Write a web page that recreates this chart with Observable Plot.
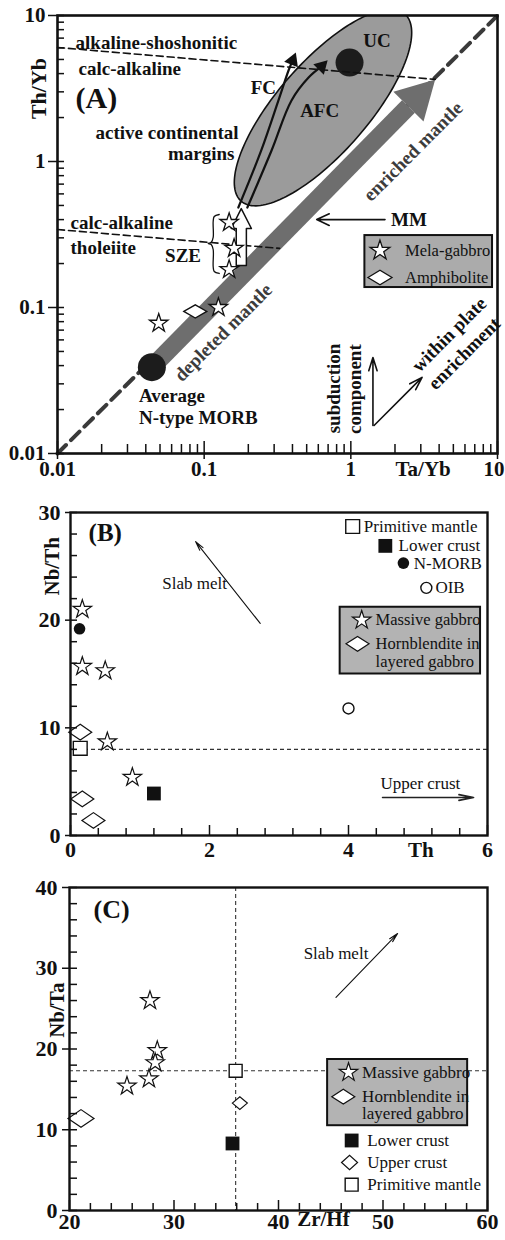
<!DOCTYPE html>
<html><head><meta charset="utf-8">
<script src="https://cdn.jsdelivr.net/npm/d3@7"></script>
<script src="https://cdn.jsdelivr.net/npm/@observablehq/plot@0.6"></script>
<style>
body{margin:0;background:#fff;}
#wrap{position:relative;width:505px;height:1240px;overflow:hidden;background:#fff}
#wrap svg{position:absolute;left:0;overflow:visible}
</style></head><body><div id="wrap"></div>
<script>
const SERIF = "'Liberation Serif','Times New Roman',serif";

// ================= Panel A : Th/Yb vs Ta/Yb =================
const melaGabbroA = [
  {ta: 0.148, th: 0.382}, {ta: 0.160, th: 0.254}, {ta: 0.148, th: 0.182},
  {ta: 0.125, th: 0.100}, {ta: 0.049, th: 0.078}
];
const amphiboliteA = [{ta: 0.087, th: 0.094}];
const morbA = [{ta: 0.044, th: 0.039}];
const upperCrustA = [{ta: 0.98, th: 4.76}];
const diagonalA = [{ta: 0.01, th: 0.01}, {ta: 10, th: 10}];
const mantleBandA = [{ta: 0.044, th: 0.039}, {ta: 2.47, th: 2.38}];
const mantleHeadA = [{ta: 1.95, th: 3.0}, {ta: 3.76, th: 3.65}, {ta: 3.13, th: 1.88}];
const alkCalcLineA = [{ta: 0.01, th: 6.04}, {ta: 3.76, th: 3.65}];
const calcTholLineA = [{ta: 0.01, th: 0.342}, {ta: 0.327, th: 0.254}];
const fcPathA = [{ta: 0.171, th: 0.484}, {ta: 0.245, th: 1.19}, {ta: 0.321, th: 2.62}, {ta: 0.376, th: 4.20}, {ta: 0.401, th: 4.92}];
const afcPathA = [{ta: 0.197, th: 0.484}, {ta: 0.288, th: 1.19}, {ta: 0.394, th: 2.62}, {ta: 0.515, th: 3.76}, {ta: 0.632, th: 4.48}];
const fcHeadA = [{ta: 0.401, th: 4.92}];
const afcHeadA = [{ta: 0.632, th: 4.48}];
const szeArrowA = [
  {ta: 0.1655, th: 0.194}, {ta: 0.1655, th: 0.3475}, {ta: 0.153, th: 0.3475},
  {ta: 0.179, th: 0.476}, {ta: 0.210, th: 0.3475}, {ta: 0.194, th: 0.3475}, {ta: 0.194, th: 0.194}
];
const braceA = [
  {ta: 0.1267, th: 0.4335}, {ta: 0.1171, th: 0.420}, {ta: 0.1152, th: 0.388}, {ta: 0.1152, th: 0.3017},
  {ta: 0.1117, th: 0.2788}, {ta: 0.1065, th: 0.2745}, {ta: 0.1117, th: 0.270}, {ta: 0.1152, th: 0.2496},
  {ta: 0.1152, th: 0.191}, {ta: 0.1171, th: 0.1764}, {ta: 0.1267, th: 0.171}
];
const acmEllipseA = {ta: 0.646, th: 2.34, semiMajor: 0.85, semiMinor: 0.31, angle: 49};
const vectorsA = [
  {name: "MM", x1: 1.71, y1: 0.40, x2: 0.585, y2: 0.40},
  {name: "subduction", x1: 1.415, y1: 0.01556, x2: 1.415, y2: 0.0455},
  {name: "within plate", x1: 1.44, y1: 0.01556, x2: 3.06, y2: 0.0332}
];
const labelsStartA = [
  {ta: 0.01328, th: 6.53, t: "alkaline-shoshonitic"},
  {ta: 0.01393, th: 4.34, t: "calc-alkaline"},
  {ta: 0.01227, th: 0.382, t: "calc-alkaline"},
  {ta: 0.01227, th: 0.2576, t: "tholeiite"},
  {ta: 0.0359, th: 0.0249, t: "Average"},
  {ta: 0.0359, th: 0.01766, t: "N-type MORB"}
];
const panelTagA = [{ta: 0.01328, th: 2.70, t: "(A)"}];
const labelsMidA = [
  {ta: 0.2535, th: 3.21, t: "FC"},
  {ta: 0.613, th: 2.23, t: "AFC"},
  {ta: 0.0558, th: 1.58, t: "active continental"},
  {ta: 0.0954, th: 1.134, t: "margins"},
  {ta: 1.507, th: 6.74, t: "UC"},
  {ta: 0.0718, th: 0.227, t: "SZE"},
  {ta: 2.49, th: 0.401, t: "MM"}
];
const mantleLabelsA = [
  {ta: 2.66, th: 1.17, t: "enriched mantle"},
  {ta: 0.135, th: 0.0675, t: "depleted mantle"}
];
const vectorLabels45A = [
  {ta: 4.69, th: 0.0653, t: "within plate"},
  {ta: 5.94, th: 0.0484, t: "enrichment"}
];
const vectorLabels90A = [
  {ta: 0.765, th: 0.0279, t: "subduction"},
  {ta: 1.065, th: 0.0276, t: "component"}
];
const legendBoxA = [{x1: 1.247, x2: 9.25, y1: 0.137, y2: 0.311}];
const legendStarA = [{ta: 1.58, th: 0.2457}];
const legendDiamondA = [{ta: 1.58, th: 0.1605}];
const legendTextA = [{ta: 2.34, th: 0.2457, t: "Mela-gabbro"}, {ta: 2.34, th: 0.1605, t: "Amphibolite"}];
const decadeTicksA = [0.01, 0.1, 1, 10];
const axisLabelsA = {x: "Ta/Yb", y: "Th/Yb", xPos: 3.11, yPos: 3.16};

// ================= Panel B : Nb/Th vs Th =================
const massiveGabbroB = [
  {th: 0.17, nbth: 21.0}, {th: 0.17, nbth: 15.7}, {th: 0.50, nbth: 15.3},
  {th: 0.53, nbth: 8.7}, {th: 0.89, nbth: 5.4}
];
const hornblenditeB = [{th: 0.14, nbth: 9.6}, {th: 0.17, nbth: 3.4}, {th: 0.33, nbth: 1.4}];
const primitiveMantleB = [{th: 0.14, nbth: 8.1}];
const lowerCrustB = [{th: 1.2, nbth: 3.9}];
const nMorbB = [{th: 0.13, nbth: 19.2}];
const oibB = [{th: 4.0, nbth: 11.8}];
const pmLevelB = [8.0];
const slabArrowB = [{x1: 2.73, y1: 19.7, x2: 1.80, y2: 27.3}];
const upperCrustArrowB = [{x1: 4.49, y1: 3.53, x2: 5.80, y2: 3.53}];
const xTicksB = [0, 2, 4, 6];
const yTicksB = [0, 10, 20, 30];
const refLegendB = [
  {th: 4.22, nbth: 28.7, t: "Primitive mantle"},
  {th: 4.72, nbth: 26.9, t: "Lower crust"},
  {th: 4.94, nbth: 25.3, t: "N-MORB"},
  {th: 5.25, nbth: 23.0, t: "OIB"}
];
const refLegendSymB = {pm: [{th: 4.06, nbth: 28.7}], lc: [{th: 4.53, nbth: 26.9}], nm: [{th: 4.79, nbth: 25.3}], oib: [{th: 5.12, nbth: 23.0}]};
const legendBoxB = [{x1: 3.88, x2: 5.90, y1: 15.0, y2: 21.2}];
const legendSymB = {star: [{th: 4.19, nbth: 20.0}], diamond: [{th: 4.13, nbth: 17.8}]};
const legendTextB = [
  {th: 4.39, nbth: 20.0, t: "Massive gabbro"},
  {th: 4.39, nbth: 17.8, t: "Hornblendite in"},
  {th: 4.39, nbth: 16.1, t: "layered gabbro"}
];
const notesB = [{th: 1.32, nbth: 23.4, t: "Slab melt"}, {th: 4.46, nbth: 4.83, t: "Upper crust"}];

// ================= Panel C : Nb/Ta vs Zr/Hf =================
const massiveGabbroC = [
  {zrhf: 27.7, nbta: 26.0}, {zrhf: 28.4, nbta: 19.8}, {zrhf: 28.2, nbta: 18.3},
  {zrhf: 27.6, nbta: 16.3}, {zrhf: 25.5, nbta: 15.4}
];
const hornblenditeC = [{zrhf: 21.1, nbta: 11.4}];
const upperCrustC = [{zrhf: 36.3, nbta: 13.3}];
const lowerCrustC = [{zrhf: 35.6, nbta: 8.3}];
const primitiveMantleC = [{zrhf: 35.9, nbta: 17.3}];
const slabArrowC = [{x1: 45.5, y1: 26.4, x2: 51.4, y2: 34.3}];
const xTicksC = [20, 30, 40, 50, 60];
const yTicksC = [0, 10, 20, 30, 40];
const legendBoxC = [{x1: 44.7, x2: 58.1, y1: 10.5, y2: 18.7}];
const legendTextC = [
  {zrhf: 48.0, nbta: 17.1, t: "Massive gabbro"},
  {zrhf: 48.0, nbta: 14.1, t: "Hornblendite in"},
  {zrhf: 48.0, nbta: 12.0, t: "layered gabbro"},
  {zrhf: 48.5, nbta: 8.67, t: "Lower crust"},
  {zrhf: 48.5, nbta: 5.94, t: "Upper crust"},
  {zrhf: 48.5, nbta: 3.2, t: "Primitive mantle"}
];
const legendSymC = {
  star: [{zrhf: 46.7, nbta: 17.1}], diamond: [{zrhf: 46.2, nbta: 14.1}],
  lc: [{zrhf: 47.0, nbta: 8.67}], uc: [{zrhf: 46.8, nbta: 5.94}], pm: [{zrhf: 47.0, nbta: 3.2}]
};

// ================= helpers =================
const INK = "#111";
const diamond = (ratio) => ({
  draw(ctx, size) {
    const w = Math.sqrt(size / Math.PI), h = w * ratio;
    ctx.moveTo(-w, 0); ctx.lineTo(0, -h); ctx.lineTo(w, 0); ctx.lineTo(0, h); ctx.closePath();
  }
});
function ellipsePoints(e, n = 160) {
  const a = e.angle * Math.PI / 180, cx = Math.log10(e.ta), cy = Math.log10(e.th);
  return d3.range(n).map(i => {
    const t = 2 * Math.PI * i / n;
    const lx = cx + e.semiMajor * Math.cos(t) * Math.cos(a) - e.semiMinor * Math.sin(t) * Math.sin(a);
    const ly = cy + e.semiMajor * Math.cos(t) * Math.sin(a) + e.semiMinor * Math.sin(t) * Math.cos(a);
    return {ta: 10 ** lx, th: 10 ** ly};
  });
}
function tickRules(o) {
  const s = {stroke: INK, strokeWidth: 1.5};
  return [
    Plot.ruleX(o.xMinor, {...s, insetTop: o.innerH - o.xIn}),
    Plot.ruleX(o.xMajor, {...s, insetTop: o.innerH - o.xInMajor, insetBottom: -o.xOut}),
    Plot.ruleY(o.yMinor, {...s, insetRight: o.innerW - o.yIn}),
    Plot.ruleY(o.yMajor, {...s, insetRight: o.innerW - o.yInMajor, insetLeft: -o.yOut})
  ];
}
const txt = (extra) => ({fontFamily: SERIF, fill: INK, ...extra});
const wrap = document.getElementById("wrap");
function place(svg, top) { svg.style.top = top + "px"; wrap.appendChild(svg); }

// ================= Panel A =================
{
  const W = 505, H = 490, mL = 57, mR = 8, mT = 15, mB = 37;
  const innerW = W - mL - mR, innerH = H - mT - mB;
  const minor = [];
  for (const d of [0.01, 0.1, 1]) for (let k = 2; k <= 9; k++) minor.push(d * k);
  const svg = Plot.plot({
    width: W, height: H, marginLeft: mL, marginRight: mR, marginTop: mT, marginBottom: mB,
    x: {type: "log", domain: [0.01, 10], axis: null},
    y: {type: "log", domain: [0.01, 10], axis: null},
    style: {fontFamily: SERIF, background: "transparent"},
    marks: [
      Plot.line(ellipsePoints(acmEllipseA), {x: "ta", y: "th", curve: "linear-closed", fill: "#9b9b9b", stroke: INK, strokeWidth: 1.6, clip: true}),
      Plot.line(diagonalA, {x: "ta", y: "th", stroke: "#3a3a3a", strokeWidth: 4, strokeDasharray: "12,7"}),
      Plot.line(mantleBandA, {x: "ta", y: "th", stroke: "#6e6e6e", strokeWidth: 18, strokeLinecap: "butt"}),
      Plot.line(mantleHeadA, {x: "ta", y: "th", curve: "linear-closed", fill: "#6e6e6e", stroke: "none"}),
      Plot.dot(upperCrustA, {x: "ta", y: "th", r: 14, fill: "#1c1c1c"}),
      Plot.line(alkCalcLineA, {x: "ta", y: "th", stroke: INK, strokeWidth: 1.6, strokeDasharray: "7,4"}),
      Plot.line(calcTholLineA, {x: "ta", y: "th", stroke: INK, strokeWidth: 1.6, strokeDasharray: "7,4"}),
      Plot.line(fcPathA, {x: "ta", y: "th", curve: "catmull-rom", stroke: INK, strokeWidth: 2.2}),
      Plot.line(afcPathA, {x: "ta", y: "th", curve: "catmull-rom", stroke: INK, strokeWidth: 2.2}),
      Plot.dot(fcHeadA, {x: "ta", y: "th", symbol: "triangle", r: 5.5, rotate: 22, fill: INK}),
      Plot.dot(afcHeadA, {x: "ta", y: "th", symbol: "triangle", r: 5.5, rotate: 45, fill: INK}),
      Plot.line(szeArrowA, {x: "ta", y: "th", curve: "linear-closed", fill: "white", stroke: INK, strokeWidth: 1.5}),
      Plot.line(braceA, {x: "ta", y: "th", curve: "catmull-rom", stroke: INK, strokeWidth: 1.3}),
      Plot.dot(melaGabbroA, {x: "ta", y: "th", symbol: "star", r: 5.8, fill: "white", stroke: INK, strokeWidth: 1.3}),
      Plot.dot(amphiboliteA, {x: "ta", y: "th", symbol: diamond(0.57), r: 11.5, fill: "white", stroke: INK, strokeWidth: 1.3}),
      Plot.dot(morbA, {x: "ta", y: "th", r: 14, fill: "#1c1c1c"}),
      Plot.arrow(vectorsA.slice(0, 1), {x1: "x1", y1: "y1", x2: "x2", y2: "y2", stroke: INK, strokeWidth: 1.6, headLength: 13, headAngle: 50}),
      Plot.arrow(vectorsA.slice(1), {x1: "x1", y1: "y1", x2: "x2", y2: "y2", stroke: INK, strokeWidth: 1.6, headLength: 13, headAngle: 35}),
      Plot.text(labelsStartA, {x: "ta", y: "th", text: "t", textAnchor: "start", ...txt({fontSize: 19, fontWeight: "bold"})}),
      Plot.text(panelTagA, {x: "ta", y: "th", text: "t", textAnchor: "start", ...txt({fontSize: 30, fontWeight: "bold"})}),
      Plot.text(labelsMidA, {x: "ta", y: "th", text: "t", ...txt({fontSize: 19, fontWeight: "bold"})}),
      Plot.text(mantleLabelsA, {x: "ta", y: "th", text: "t", rotate: -45, ...txt({fontSize: 19, fontWeight: "bold", fill: "#3c3c3c"})}),
      Plot.text(vectorLabels45A, {x: "ta", y: "th", text: "t", rotate: -45, ...txt({fontSize: 19, fontWeight: "bold"})}),
      Plot.text(vectorLabels90A, {x: "ta", y: "th", text: "t", rotate: -90, ...txt({fontSize: 19, fontWeight: "bold"})}),
      Plot.rect(legendBoxA, {x1: "x1", x2: "x2", y1: "y1", y2: "y2", fill: "#ababab", stroke: INK, strokeWidth: 2}),
      Plot.dot(legendStarA, {x: "ta", y: "th", symbol: "star", r: 6.2, fill: "white", stroke: INK, strokeWidth: 1.3}),
      Plot.dot(legendDiamondA, {x: "ta", y: "th", symbol: diamond(0.6), r: 12, fill: "white", stroke: INK, strokeWidth: 1.3}),
      Plot.text(legendTextA, {x: "ta", y: "th", text: "t", textAnchor: "start", ...txt({fontSize: 16.5})}),
      ...tickRules({innerW, innerH, xMinor: minor, xMajor: decadeTicksA, yMinor: minor, yMajor: decadeTicksA,
        xIn: 9, xInMajor: 12, xOut: 6, yIn: 7, yInMajor: 7, yOut: 9}),
      Plot.frame({stroke: INK, strokeWidth: 2.6}),
      Plot.text(decadeTicksA.slice(0, 3), {x: d => d, text: d => String(d), frameAnchor: "bottom", dy: 22, textAnchor: "middle", ...txt({fontSize: 21, fontWeight: "bold"})}),
      Plot.text(decadeTicksA.slice(3), {x: d => d, text: d => String(d), frameAnchor: "bottom", dy: 22, dx: 7, textAnchor: "end", ...txt({fontSize: 21, fontWeight: "bold"})}),
      Plot.text(decadeTicksA, {y: d => d, text: d => String(d), frameAnchor: "left", dx: -12, textAnchor: "end", ...txt({fontSize: 21, fontWeight: "bold"})}),
      Plot.text([axisLabelsA.x], {x: axisLabelsA.xPos, text: d => d, frameAnchor: "bottom", dy: 22, textAnchor: "middle", ...txt({fontSize: 21, fontWeight: "bold"})}),
      Plot.text([axisLabelsA.y], {y: axisLabelsA.yPos, text: d => d, frameAnchor: "left", dx: -19, rotate: -90, textAnchor: "middle", ...txt({fontSize: 22, fontWeight: "bold"})})
    ]
  });
  place(svg, 0);
}

// ================= Panel B =================
{
  const W = 505, H = 380, mL = 70, mR = 18, mT = 22, mB = 35;
  const innerW = W - mL - mR, innerH = H - mT - mB;
  const xMinor = d3.range(1, 15).map(i => i * 0.4).filter(v => Math.abs(v / 2 - Math.round(v / 2)) > 0.01);
  const yMinor = d3.range(1, 15).map(i => i * 2).filter(v => v % 10 !== 0);
  const svg = Plot.plot({
    width: W, height: H, marginLeft: mL, marginRight: mR, marginTop: mT, marginBottom: mB,
    x: {domain: [0, 6], axis: null},
    y: {domain: [0, 30], axis: null},
    style: {fontFamily: SERIF, background: "transparent"},
    marks: [
      Plot.ruleY(pmLevelB, {stroke: "#333", strokeWidth: 1.1, strokeDasharray: "4,3"}),
      Plot.dot(massiveGabbroB, {x: "th", y: "nbth", symbol: "star", r: 5.8, fill: "white", stroke: INK, strokeWidth: 1.2}),
      Plot.dot(hornblenditeB, {x: "th", y: "nbth", symbol: diamond(0.68), r: 11.5, fill: "white", stroke: INK, strokeWidth: 1.2}),
      Plot.dot(primitiveMantleB, {x: "th", y: "nbth", symbol: "square", r: 7.8, fill: "white", stroke: INK, strokeWidth: 1.4}),
      Plot.dot(lowerCrustB, {x: "th", y: "nbth", symbol: "square", r: 7.8, fill: INK}),
      Plot.dot(nMorbB, {x: "th", y: "nbth", r: 5.8, fill: INK}),
      Plot.dot(oibB, {x: "th", y: "nbth", r: 5.5, fill: "white", stroke: INK, strokeWidth: 1.4}),
      Plot.arrow(slabArrowB, {x1: "x1", y1: "y1", x2: "x2", y2: "y2", stroke: INK, strokeWidth: 1.1, headLength: 13, headAngle: 25}),
      Plot.arrow(upperCrustArrowB, {x1: "x1", y1: "y1", x2: "x2", y2: "y2", stroke: "#222", strokeWidth: 1.6, headLength: 14, headAngle: 22}),
      Plot.text(notesB, {x: "th", y: "nbth", text: "t", textAnchor: "start", ...txt({fontSize: 17})}),
      Plot.text([{th: 0.26, nbth: 28.1, t: "(B)"}], {x: "th", y: "nbth", text: "t", textAnchor: "start", ...txt({fontSize: 25, fontWeight: "bold"})}),
      Plot.dot(refLegendSymB.pm, {x: "th", y: "nbth", symbol: "square", r: 7.8, fill: "white", stroke: INK, strokeWidth: 1.4}),
      Plot.dot(refLegendSymB.lc, {x: "th", y: "nbth", symbol: "square", r: 7.8, fill: INK}),
      Plot.dot(refLegendSymB.nm, {x: "th", y: "nbth", r: 5.8, fill: INK}),
      Plot.dot(refLegendSymB.oib, {x: "th", y: "nbth", r: 5.5, fill: "white", stroke: INK, strokeWidth: 1.4}),
      Plot.text(refLegendB, {x: "th", y: "nbth", text: "t", textAnchor: "start", ...txt({fontSize: 17})}),
      Plot.rect(legendBoxB, {x1: "x1", x2: "x2", y1: "y1", y2: "y2", fill: "#b3b3b3", stroke: INK, strokeWidth: 2}),
      Plot.dot(legendSymB.star, {x: "th", y: "nbth", symbol: "star", r: 5.8, fill: "white", stroke: INK, strokeWidth: 1.2}),
      Plot.dot(legendSymB.diamond, {x: "th", y: "nbth", symbol: diamond(0.65), r: 11.5, fill: "white", stroke: INK, strokeWidth: 1.2}),
      Plot.text(legendTextB, {x: "th", y: "nbth", text: "t", textAnchor: "start", ...txt({fontSize: 16.5})}),
      ...tickRules({innerW, innerH, xMinor, xMajor: xTicksB, yMinor, yMajor: yTicksB,
        xIn: 7, xInMajor: 10, xOut: 0, yIn: 7, yInMajor: 7, yOut: 5}),
      Plot.frame({stroke: INK, strokeWidth: 2.4}),
      Plot.text(xTicksB, {x: d => d, text: d => String(d), frameAnchor: "bottom", dy: 21, textAnchor: "middle", ...txt({fontSize: 22, fontWeight: "bold"})}),
      Plot.text(yTicksB, {y: d => d, text: d => String(d), frameAnchor: "left", dx: -10, textAnchor: "end", ...txt({fontSize: 22, fontWeight: "bold"})}),
      Plot.text(["Th"], {x: 5.04, text: d => d, frameAnchor: "bottom", dy: 21, textAnchor: "middle", ...txt({fontSize: 21, fontWeight: "bold"})}),
      Plot.text(["Nb/Th"], {y: 25.0, text: d => d, frameAnchor: "left", dx: -18, rotate: -90, textAnchor: "middle", ...txt({fontSize: 21, fontWeight: "bold"})})
    ]
  });
  place(svg, 490);
}

// ================= Panel C =================
{
  const W = 505, H = 370, mL = 69, mR = 18, mT = 17, mB = 30;
  const innerW = W - mL - mR, innerH = H - mT - mB;
  const xMinor = d3.range(11, 30).map(i => i * 2).filter(v => v % 10 !== 0);
  const yMinor = d3.range(1, 20).map(i => i * 2).filter(v => v % 10 !== 0);
  const svg = Plot.plot({
    width: W, height: H, marginLeft: mL, marginRight: mR, marginTop: mT, marginBottom: mB,
    x: {domain: [20, 60], axis: null},
    y: {domain: [0, 40], axis: null},
    style: {fontFamily: SERIF, background: "transparent"},
    marks: [
      Plot.ruleX(primitiveMantleC, {x: "zrhf", stroke: "#333", strokeWidth: 1.1, strokeDasharray: "4,3"}),
      Plot.ruleY(primitiveMantleC, {y: "nbta", stroke: "#333", strokeWidth: 1.1, strokeDasharray: "4,3"}),
      Plot.dot(massiveGabbroC, {x: "zrhf", y: "nbta", symbol: "star", r: 5.8, fill: "white", stroke: INK, strokeWidth: 1.2}),
      Plot.dot(hornblenditeC, {x: "zrhf", y: "nbta", symbol: diamond(0.68), r: 13, fill: "white", stroke: INK, strokeWidth: 1.2}),
      Plot.dot(upperCrustC, {x: "zrhf", y: "nbta", symbol: diamond(0.85), r: 7.5, fill: "white", stroke: INK, strokeWidth: 1.2}),
      Plot.dot(lowerCrustC, {x: "zrhf", y: "nbta", symbol: "square", r: 7.8, fill: INK}),
      Plot.dot(primitiveMantleC, {x: "zrhf", y: "nbta", symbol: "square", r: 7.3, fill: "white", stroke: INK, strokeWidth: 1.4}),
      Plot.arrow(slabArrowC, {x1: "x1", y1: "y1", x2: "x2", y2: "y2", stroke: INK, strokeWidth: 1.1, headLength: 13, headAngle: 25}),
      Plot.text([{zrhf: 48.6, nbta: 31.8, t: "Slab melt"}], {x: "zrhf", y: "nbta", text: "t", textAnchor: "end", ...txt({fontSize: 17})}),
      Plot.text([{zrhf: 22.3, nbta: 37.2, t: "(C)"}], {x: "zrhf", y: "nbta", text: "t", textAnchor: "start", ...txt({fontSize: 26, fontWeight: "bold"})}),
      Plot.rect(legendBoxC, {x1: "x1", x2: "x2", y1: "y1", y2: "y2", fill: "#b3b3b3", stroke: INK, strokeWidth: 2}),
      Plot.dot(legendSymC.star, {x: "zrhf", y: "nbta", symbol: "star", r: 5.8, fill: "white", stroke: INK, strokeWidth: 1.2}),
      Plot.dot(legendSymC.diamond, {x: "zrhf", y: "nbta", symbol: diamond(0.65), r: 11.5, fill: "white", stroke: INK, strokeWidth: 1.2}),
      Plot.dot(legendSymC.lc, {x: "zrhf", y: "nbta", symbol: "square", r: 7.8, fill: INK}),
      Plot.dot(legendSymC.uc, {x: "zrhf", y: "nbta", symbol: diamond(0.9), r: 8, fill: "white", stroke: INK, strokeWidth: 1.2}),
      Plot.dot(legendSymC.pm, {x: "zrhf", y: "nbta", symbol: "square", r: 7.3, fill: "white", stroke: INK, strokeWidth: 1.4}),
      Plot.text(legendTextC, {x: "zrhf", y: "nbta", text: "t", textAnchor: "start", ...txt({fontSize: 17})}),
      ...tickRules({innerW, innerH, xMinor, xMajor: xTicksC, yMinor, yMajor: yTicksC,
        xIn: 7, xInMajor: 10, xOut: 0, yIn: 8, yInMajor: 8, yOut: 7}),
      Plot.frame({stroke: INK, strokeWidth: 2.4}),
      Plot.text(xTicksC, {x: d => d, text: d => String(d), frameAnchor: "bottom", dy: 18, textAnchor: "middle", ...txt({fontSize: 22, fontWeight: "bold"})}),
      Plot.text(yTicksC, {y: d => d, text: d => String(d), frameAnchor: "left", dx: -12, textAnchor: "end", ...txt({fontSize: 22, fontWeight: "bold"})}),
      Plot.text(["Zr/Hf"], {x: 44.3, text: d => d, frameAnchor: "bottom", dy: 15, textAnchor: "middle", ...txt({fontSize: 21, fontWeight: "bold"})}),
      Plot.text(["Nb/Ta"], {y: 24.8, text: d => d, frameAnchor: "left", dx: -12, rotate: -90, textAnchor: "middle", ...txt({fontSize: 21, fontWeight: "bold"})})
    ]
  });
  place(svg, 870);
}
</script>
</body></html>
